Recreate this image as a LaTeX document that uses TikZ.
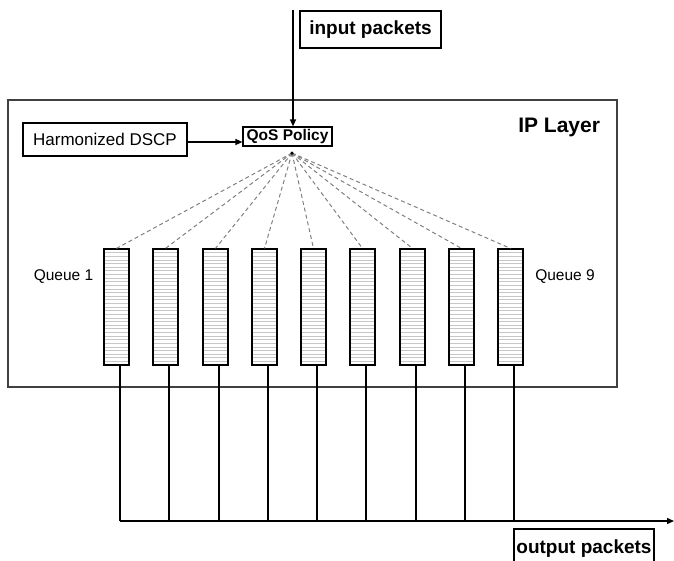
\documentclass[tikz,border=0pt]{standalone}
\usepackage{fontspec}
\setmainfont{Liberation Sans}
\usetikzlibrary{arrows.meta,calc}
\begin{document}
\begin{tikzpicture}[x=1pt,y=-1pt,
  line width=1.3pt,
  >={Triangle[length=7pt,width=6pt]},
  box/.style={draw, rectangle, inner sep=0pt, line width=1.2pt},
  bigbold/.style={font=\fontsize{19}{22}\selectfont\bfseries},
  normal/.style={font=\fontsize{17}{20}\selectfont},
  qlabel/.style={font=\fontsize{15.5}{18}\selectfont},
  queue/.style={draw, rectangle, minimum width=25pt, minimum height=116pt, inner sep=0pt, line width=1.2pt,
    path picture={
      \foreach \i in {1,...,31}{
        \draw[gray!45, line width=0.7pt]
          ($(path picture bounding box.north west)!\i/32!(path picture bounding box.south west)$) -- ++(30,0);
      }
    }},
  fan/.style={draw=gray, dash pattern=on 4pt off 3pt, line width=1pt}]
\useasboundingbox (0,0) rectangle (674,561);

% IP layer container
\node[box, minimum width=609pt, minimum height=287pt, draw=black!75] (ip) at (312.5,243.5) {};
\node[anchor=base east, font=\fontsize{21}{24}\selectfont\bfseries] (iplabel) at (604,133) {IP Layer};

% input
\node[box, bigbold, minimum width=141pt, minimum height=37pt] (in) at (370.5,29.5) {input packets};
\coordinate (inpt) at (293,10);

% policy
\node[box, normal, minimum width=164pt, minimum height=33pt] (harm) at (105,139.5) {Harmonized DSCP};
\node[box, font=\fontsize{15.5}{18}\selectfont\bfseries, minimum width=89pt, minimum height=19pt] (qos) at (287.5,136.5) {QoS Policy};
\draw[->] (inpt) -- (inpt |- qos.north);
\draw[->] ([yshift=-2.5pt]harm.east) -- ([yshift=-2.5pt]harm.east -| qos.west);

\coordinate (src) at ([xshift=4.5pt,yshift=-6.5pt]qos.south);

% queues
\foreach \k in {1,...,9}
  \node[queue] (q\k) at ({116.5+round(49.25*(\k-1))},307) {};
\foreach \k in {1,...,9}
  \draw[fan] (src) -- (q\k.north);
\fill (src) circle (1.8pt);

\node[qlabel] (ql1) at (63.5,277) {Queue 1};
\node[qlabel] (ql9) at (565,277) {Queue 9};

% output bus
\coordinate (busL) at (120,521);
\coordinate (busR) at (674,521);
\foreach \k in {1,...,9}
  \draw ([xshift=3.5pt]q\k.south) -- ([xshift=3.5pt]q\k.south |- busL);
\draw[->] (busL) -- (busR);

\node[box, bigbold, minimum width=140pt, minimum height=39pt] (out) at (584,548.5) {output packets};
\end{tikzpicture}
\end{document}
